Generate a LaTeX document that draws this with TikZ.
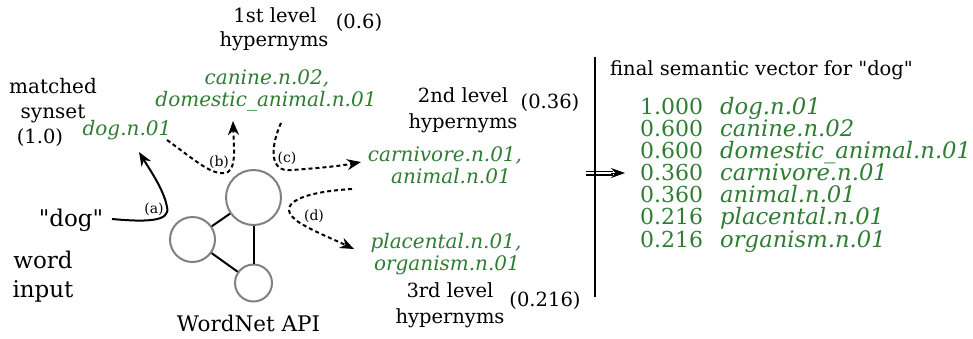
\documentclass[tikz,border=0pt]{standalone}
\usepackage{fontspec}
\setmainfont{DejaVu Serif}[Ligatures=TeXOff]
\usetikzlibrary{arrows.meta}
\definecolor{syngreen}{RGB}{46,125,50}
\definecolor{circgray}{RGB}{128,128,128}
\begin{document}
\begin{tikzpicture}[x=1pt,y=-1pt,
  lbl/.style={font=\fontsize{19.5}{25}\selectfont, inner sep=0pt, anchor=base},
  biglbl/.style={lbl, font=\fontsize{23}{28}\selectfont},
  syn/.style={font=\fontsize{20}{22}\selectfont\itshape, text=syngreen, inner sep=0pt, anchor=base},
  vec/.style={font=\fontsize{22}{22}\selectfont, text=syngreen, inner sep=0pt, anchor=base west},
  vecname/.style={vec, font=\fontsize{22.7}{22}\selectfont\itshape},
  small/.style={font=\fontsize{14}{16}\selectfont, inner sep=0pt},
  wn/.style={circle, draw=circgray, line width=2pt, inner sep=0pt},
  edge/.style={line width=2pt},
  arr/.style={line width=2pt, -{Stealth[length=14pt,width=11pt]}},
  darr/.style={arr, dash pattern=on 4pt off 3pt}]
\useasboundingbox (0,0) rectangle (973,338);

% left column texts
\node[lbl, font=\fontsize{20}{25}\selectfont] (matched) at (53,93) {matched};
\node[lbl, font=\fontsize{20}{25}\selectfont] (synset) at (53,118) {synset};
\node[lbl] (w10) at (40,143) {(1.0)};
\node[syn] (dogsyn) at (127,135) {dog.n.01};
\node[biglbl] (dogq) at (71,226) {"dog"};
\node[biglbl] (word) at (43,268) {word};
\node[biglbl] (input) at (43,297) {input};
\node[lbl, font=\fontsize{21.5}{25}\selectfont] (api) at (248.5,331) {WordNet API};

% level labels
\node[lbl] (l1a) at (275,22) {1st level};
\node[lbl] (l1b) at (274,46) {hypernyms};
\node[lbl] (w06) at (359,28) {(0.6)};
\node[syn] (can) at (267,84) {canine.n.02,};
\node[syn] (dom) at (266,106) {domestic\_animal.n.01};

\node[lbl] (l2a) at (463,102) {2nd level};
\node[lbl] (l2b) at (463,128) {hypernyms};
\node[lbl] (w036) at (550,108) {(0.36)};
\node[syn] (carn) at (445,161) {carnivore.n.01,};
\node[syn] (anim) at (451,183) {animal.n.01};

\node[syn] (plac) at (446,248) {placental.n.01,};
\node[syn] (orga) at (447,270) {organism.n.01};
\node[lbl] (l3a) at (450,297) {3rd level};
\node[lbl] (l3b) at (450,323) {hypernyms};
\node[lbl] (w0216) at (545,306) {(0.216)};

% WordNet graph
\node[wn, minimum size=55pt] (big) at (253.5,197.5) {};
\node[wn, minimum size=45pt] (left) at (192.5,239.5) {};
\node[wn, minimum size=37pt] (bot) at (253.5,283) {};
\draw[edge] (big) -- (left);
\draw[edge] (big) -- (bot);
\draw[edge] (left) -- (bot);

% arrow end points
\coordinate (aS) at (112,219);
\coordinate (aE) at (139,152);
\coordinate (bS) at (167,140);
\coordinate (bE) at (233,121);
\coordinate (cS) at (281,123);
\coordinate (cE) at (361,162);
\coordinate (dS) at (352,189);
\coordinate (dE) at (354,249);

\draw[arr] (aS) .. controls (145,222) and (171,222) .. (167,207)
                .. controls (164,190) and (150,170) .. (aE);
\draw[darr] (bS) .. controls (195,160) and (214,178) .. (228,172)
                 .. controls (236,166) and (234,150) .. (bE);
\draw[darr] (cS) .. controls (271,145) and (268,173) .. (292,170)
                 .. controls (320,168) and (340,166) .. (cE);
\draw[darr] (dS) .. controls (300,192) and (272,205) .. (300,223)
                 .. controls (315,232) and (335,240) .. (dE);

\node[small] (la) at (154,209) {(a)};
\node[small] (lb) at (219,162) {(b)};
\node[small] (lc) at (287,158) {(c)};
\node[small] (ld) at (314,216) {(d)};

% right part
\coordinate (dblS) at (586,173);
\coordinate (dblM) at (613,173);
\coordinate (dblE) at (625,173);
\draw[line width=1.4pt] ([yshift=-1.8pt]dblS) -- ([yshift=-1.8pt]dblM);
\draw[line width=1.4pt] ([yshift=1.8pt]dblS) -- ([yshift=1.8pt]dblM);
\draw[line width=1pt, -{Stealth[length=14pt,width=10pt]}] ([xshift=-2pt]dblM) -- (dblE);
\coordinate (vT) at (595,57);
\coordinate (vB) at (595,297);
\draw[line width=2.4pt] (vT) -- (vB);

\node[lbl, anchor=base west] (title) at (610,75) {final semantic vector for "dog"};

\node[vec] (n1) at (640,114) {1.000};
\node[vec] (n2) at (640,136) {0.600};
\node[vec] (n3) at (640,158) {0.600};
\node[vec] (n4) at (640,180) {0.360};
\node[vec] (n5) at (640,202) {0.360};
\node[vec] (n6) at (640,224) {0.216};
\node[vec] (n7) at (640,247) {0.216};
\node[vecname] (s1) at (720,114) {dog.n.01};
\node[vecname] (s2) at (720,136) {canine.n.02};
\node[vecname] (s3) at (720,158) {domestic\_animal.n.01};
\node[vecname] (s4) at (720,180) {carnivore.n.01};
\node[vecname] (s5) at (720,202) {animal.n.01};
\node[vecname] (s6) at (720,224) {placental.n.01};
\node[vecname] (s7) at (720,247) {organism.n.01};
\end{tikzpicture}
\end{document}
